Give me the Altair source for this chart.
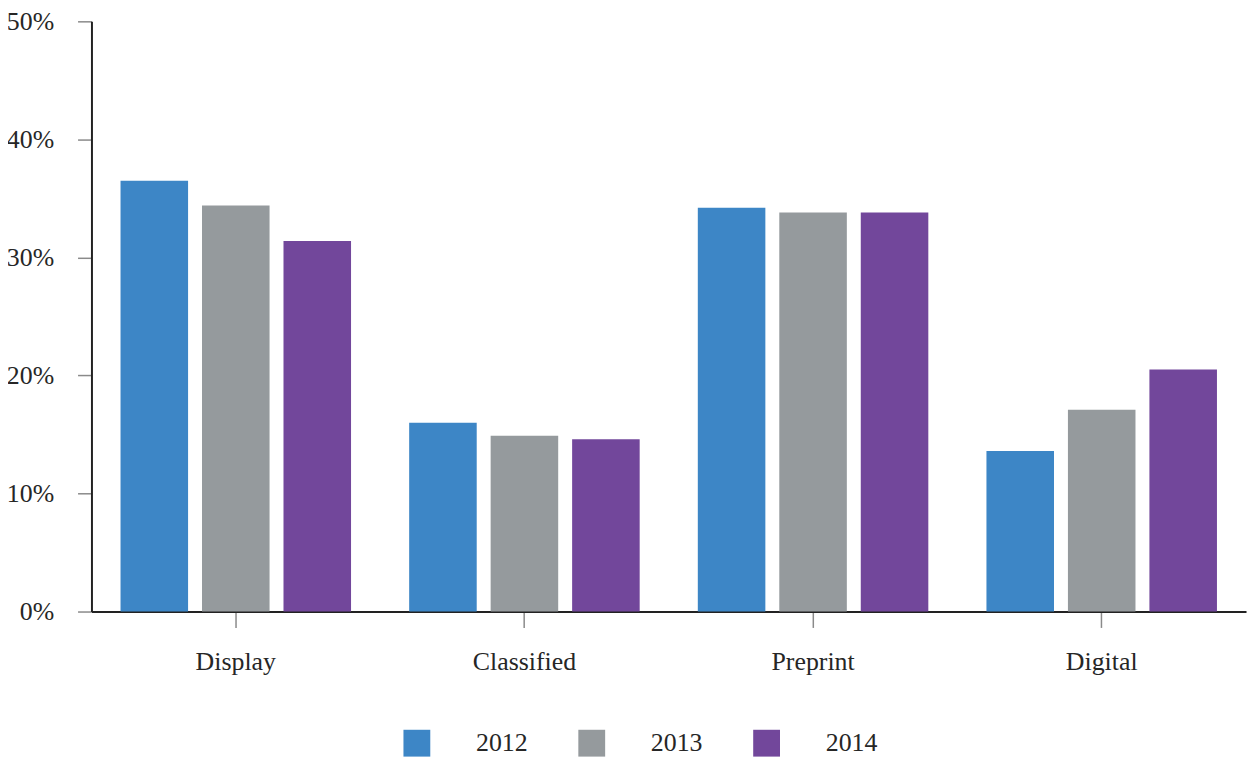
import altair as alt
import pandas as pd

categories = ["Display", "Classified", "Preprint", "Digital"]
years = ["2012", "2013", "2014"]
share_2012 = [36.5, 16.0, 34.2, 13.6]
share_2013 = [34.4, 14.9, 33.8, 17.1]
share_2014 = [31.4, 14.6, 33.8, 20.5]
colors = ["#3d86c6", "#959a9d", "#72479b"]
y_ticks = [0, 10, 20, 30, 40, 50]

rows = []
for yr, vals in zip(years, [share_2012, share_2013, share_2014]):
    for c, v in zip(categories, vals):
        rows.append({"category": c, "year": yr, "share": v})
df = pd.DataFrame(rows)

FONT = "Liberation Serif"
TXT = "#262626"
FS = 26

chart = alt.Chart(df).mark_bar().encode(
    x=alt.X("category:N", sort=categories, title=None,
            scale=alt.Scale(paddingInner=0.2014, paddingOuter=0.1007),
            axis=alt.Axis(labelAngle=0, grid=False, domainColor="#222222", domainWidth=2,
                          tickColor="#8a8a8a", tickSize=16, tickWidth=1.5,
                          labelPadding=21, labelFont=FONT, labelFontSize=FS,
                          labelColor=TXT)),
    xOffset=alt.XOffset("year:N", sort=years,
                        scale=alt.Scale(paddingInner=0.171, paddingOuter=0)),
    y=alt.Y("share:Q", title=None,
            scale=alt.Scale(domain=[0, 50], nice=False),
            axis=alt.Axis(values=y_ticks, labelExpr="datum.value + '%'", grid=False,
                          domainColor="#222222", domainWidth=2,
                          tickColor="#8a8a8a", tickSize=14, tickWidth=1.5,
                          labelPadding=24, labelFont=FONT, labelFontSize=FS,
                          labelColor=TXT)),
    color=alt.Color("year:N", scale=alt.Scale(domain=years, range=colors),
                    legend=alt.Legend(orient="none", legendX=314, legendY=713,
                                      direction="horizontal", title=None,
                                      symbolType="square", symbolSize=729,
                                      symbolStrokeWidth=0, symbolOpacity=1,
                                      labelOffset=46, columnPadding=51,
                                      labelFont=FONT, labelFontSize=FS,
                                      labelColor=TXT, padding=0)),
).properties(
    width=1162, height=594,
    autosize=alt.AutoSizeParams(type="none"),
    padding={"left": 84, "top": 11, "right": 4, "bottom": 147},
).configure_view(stroke=None)

chart.save("out.html", embed_options={"renderer": "svg", "actions": False})
